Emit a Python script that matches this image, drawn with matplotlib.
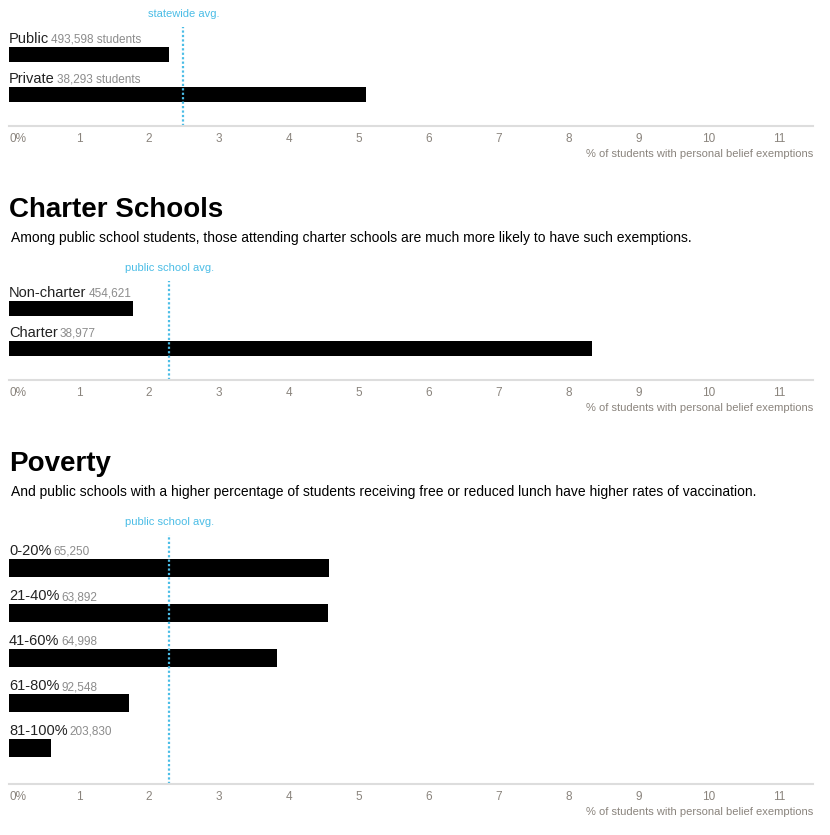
import matplotlib
matplotlib.use('Agg')
import matplotlib.pyplot as plt

plt.rcParams['font.family'] = ['Liberation Sans Narrow', 'Liberation Sans', 'DejaVu Sans']

W, H = 830, 835

# data
type_labels = ['Public', 'Private']
type_counts = ['493,598 students', '38,293 students']
type_values = [2.29, 5.10]
statewide_avg = 2.49

charter_labels = ['Non-charter', 'Charter']
charter_counts = ['454,621', '38,977']
charter_values = [1.77, 8.33]

poverty_labels = ['0-20%', '21-40%', '41-60%', '61-80%', '81-100%']
poverty_counts = ['65,250', '63,892', '64,998', '92,548', '203,830']
poverty_values = [4.57, 4.55, 3.83, 1.72, 0.60]
public_avg = 2.29

tick_values = list(range(12))
tick_labels = ['0%'] + [str(t) for t in tick_values[1:]]
axis_title = '% of students with personal belief exemptions'

BLUE = '#4bbde6'
GREY = '#8a847d'
DARK = '#222222'

fig = plt.figure(figsize=(W / 100, H / 100), dpi=100)


def panel(top, bottom, first_center, spacing, bar_h, labels, counts, values, avg, avg_text):
    x0, x1 = 9, 813
    ax = fig.add_axes([x0 / W, 1 - bottom / H, (x1 - x0) / W, (bottom - top) / H])
    n = len(values)
    ytop = -(first_center - top) / spacing
    ybot = (bottom - first_center) / spacing
    ax.set_ylim(ybot, ytop)
    ax.set_xlim(0, (x1 - x0) / 70)
    h = bar_h / spacing
    ax.barh(range(n), values, height=h, color='black')
    for i in range(n):
        ly = i - h / 2 - 4 / spacing
        t = ax.text(0, ly, labels[i], fontsize=10.5, color=DARK, va='baseline', ha='left')
        ax.annotate(counts[i], xy=(1, ly), xycoords=(t, 'data'), xytext=(1.5, 0),
                    textcoords='offset points', fontsize=8.5, color='#8c8c8c', va='baseline')
    ax.axvline(avg, color=BLUE, lw=1.6, linestyle=(0, (1, 1)))
    ax.annotate(avg_text, xy=(avg, 1), xycoords=('data', 'axes fraction'), xytext=(0, 6),
                textcoords='offset points', ha='center', va='bottom', fontsize=8, color=BLUE)
    for s in ['top', 'left', 'right']:
        ax.spines[s].set_visible(False)
    ax.spines['bottom'].set_color('#dddddd')
    ax.spines['bottom'].set_linewidth(1.5)
    ax.set_yticks([])
    ax.set_xticks(tick_values)
    ax.set_xticklabels(tick_labels, fontsize=8.5, color=GREY)
    ax.get_xticklabels()[0].set_ha('left')
    ax.tick_params(axis='x', length=0, pad=5)
    ax.annotate(axis_title, xy=(1, 0), xycoords='axes fraction', xytext=(0, -20),
                textcoords='offset points', ha='right', va='center', fontsize=8, color=GREY)
    return ax


panel(27, 126, 54.5, 40, 15, type_labels, type_counts, type_values, statewide_avg, 'statewide avg.')
panel(281, 380, 308.5, 40, 15, charter_labels, charter_counts, charter_values, public_avg, 'public school avg.')
panel(535, 784, 568, 45, 18, poverty_labels, poverty_counts, poverty_values, public_avg, 'public school avg.')

fig.text(9 / W, 1 - 210 / H, 'Charter Schools', fontsize=20, fontweight='bold', color='black', va='center')
fig.text(11 / W, 1 - 238 / H, 'Among public school students, those attending charter schools are much more likely to have such exemptions.',
         fontsize=10, color='black', va='center')
fig.text(9 / W, 1 - 464 / H, 'Poverty', fontsize=20, fontweight='bold', color='black', va='center')
fig.text(11 / W, 1 - 492 / H, 'And public schools with a higher percentage of students receiving free or reduced lunch have higher rates of vaccination.',
         fontsize=10, color='black', va='center')

fig.savefig('out.png', dpi=100)
